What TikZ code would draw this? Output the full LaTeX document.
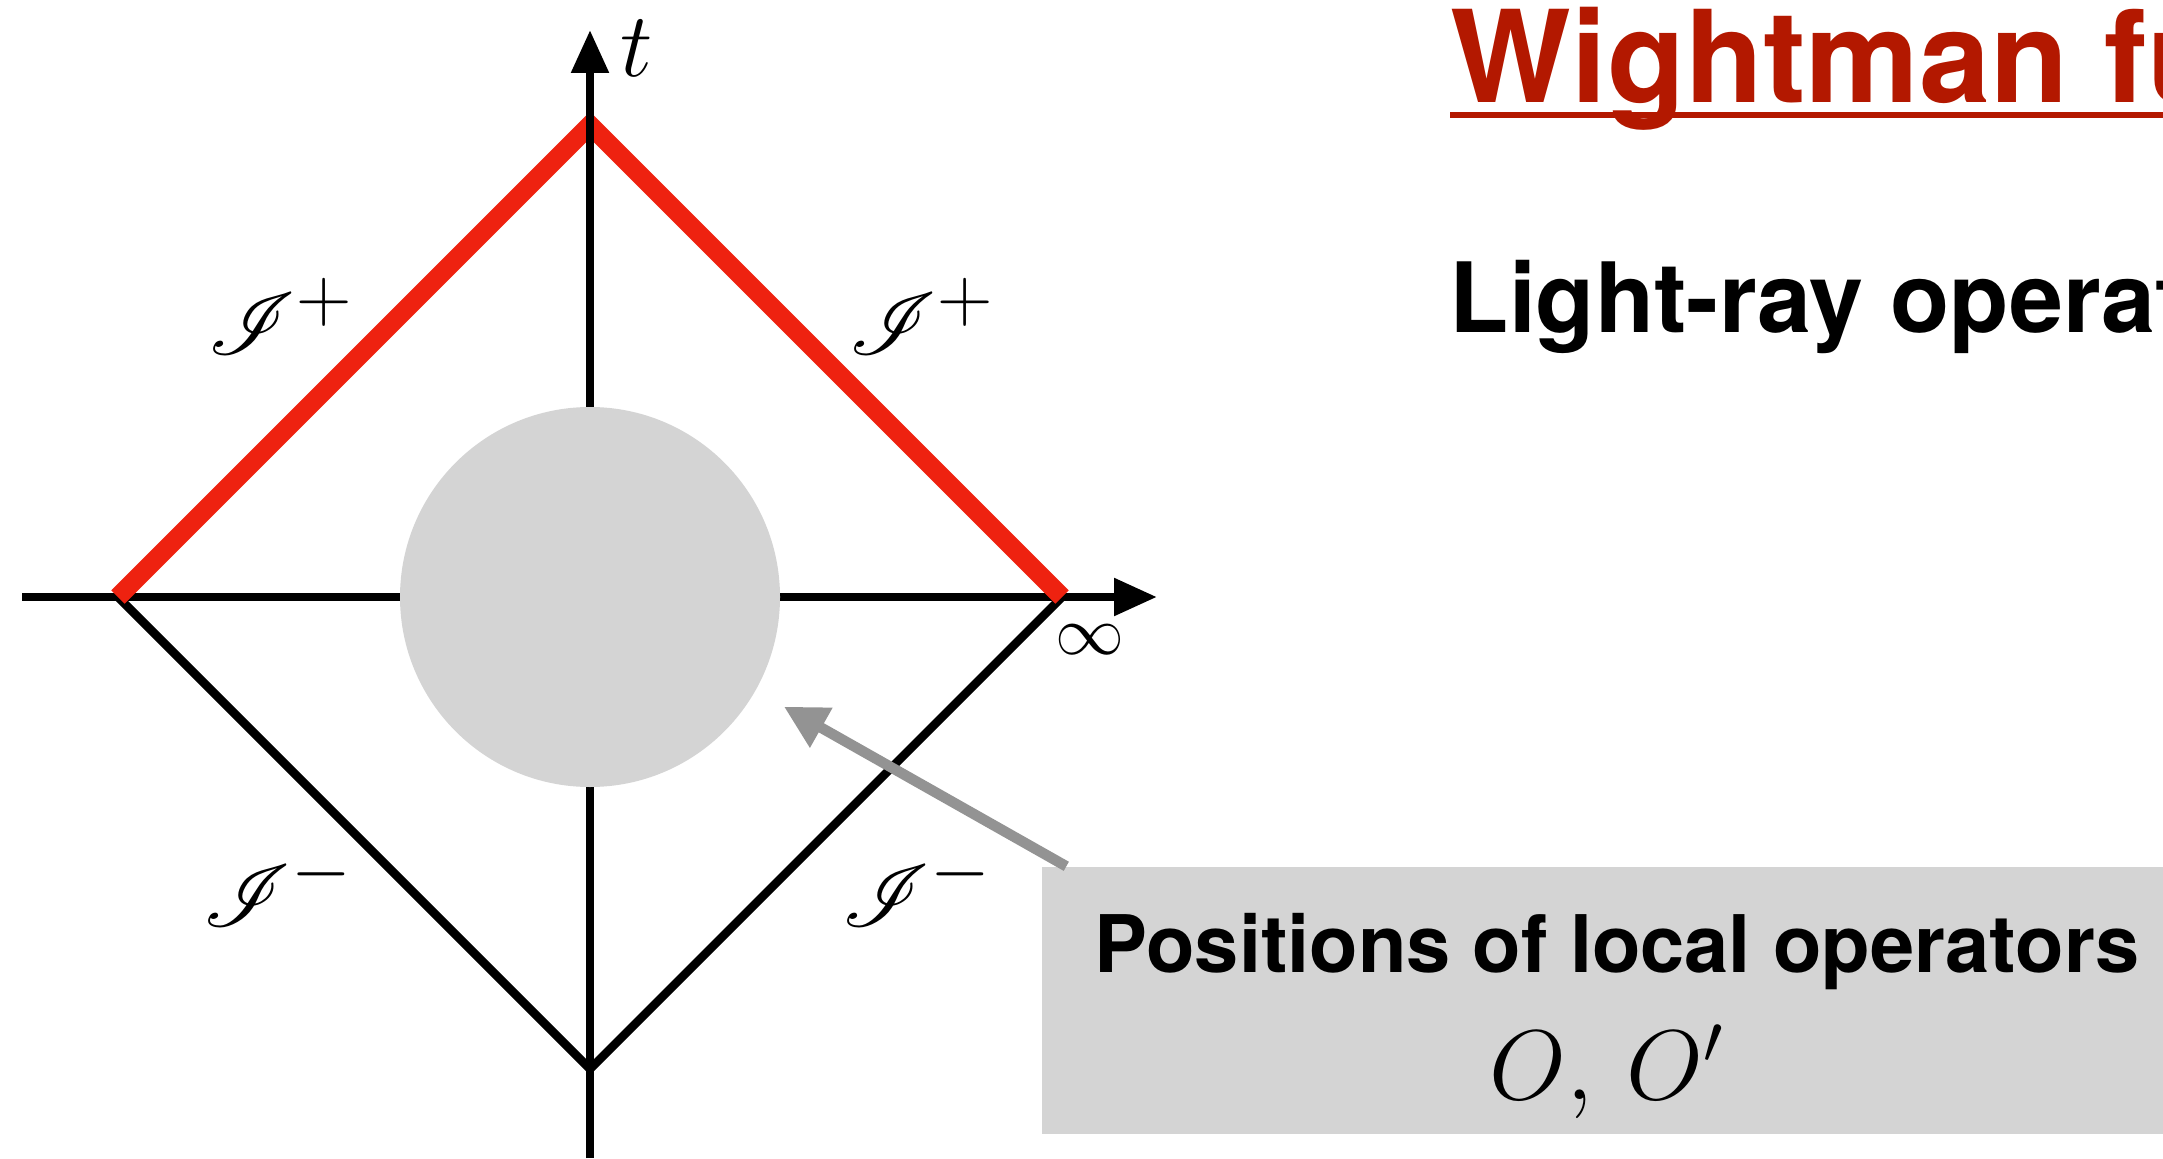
\RequirePackage{fix-cm}
\documentclass[tikz,border=0pt]{standalone}
\usepackage{fontspec}
\usepackage{mathrsfs}
\usepackage{tikz}
\usetikzlibrary{arrows.meta, positioning, calc}
\newfontfamily\heros{TeX Gyre Heros}
\definecolor{conered}{RGB}{238,34,16}
\definecolor{titlered}{RGB}{179,24,0}
\definecolor{diskgray}{RGB}{212,212,212}
\definecolor{arrowgray}{RGB}{147,147,147}
\newcommand{\bigsup}[1]{\scalebox{1.2}{$\scriptstyle #1$}}

\begin{document}
\begin{tikzpicture}[
        axis/.style={line width=0.085cm, -{Triangle[length=0.43cm, width=0.36cm]}},
        coneedge/.style={line width=0.085cm},
        nullinf/.style={line width=0.19cm, draw=conered},
        scri/.style={inner sep=0pt, font=\fontsize{26}{31}\selectfont},
        heading/.style={anchor=base west, inner sep=0pt, text=titlered, font=\heros\bfseries\fontsize{36.4}{44}\selectfont},
        subheading/.style={anchor=base west, inner sep=0pt, font=\heros\bfseries\fontsize{27.6}{33}\selectfont},
        infobox/.style={rectangle, fill=diskgray, inner sep=0pt, minimum width=11.21cm, minimum height=2.67cm},
        boxlabel/.style={anchor=base, inner sep=0pt, font=\heros\bfseries\fontsize{22.6}{27}\selectfont},
        pointer/.style={draw=arrowgray, line width=0.105cm, -{Triangle[length=0.43cm, width=0.43cm, fill=arrowgray]}, shorten >=0.32cm}
    ]
        \useasboundingbox (0,0) rectangle (21.63,-11.58);

        % light cone corners and axes ends
        \coordinate (origin) at (5.90,-5.97);
        \coordinate (west) at (1.18,-5.97);
        \coordinate (east) at (10.62,-5.97);
        \coordinate (north) at (5.90,-1.25);
        \coordinate (south) at (5.90,-10.69);
        \coordinate (xstart) at (0.22,-5.97);
        \coordinate (xend) at (11.57,-5.97);
        \coordinate (tstart) at (5.90,-11.58);
        \coordinate (tend) at (5.90,-0.30);

        \draw[coneedge] (west) -- (south) -- (east);
        \draw[axis] (xstart) -- (xend);
        \draw[nullinf] (west) -- (north) -- (east);
        \draw[axis] (tstart) -- (tend);

        \node[circle, fill=diskgray, inner sep=0pt, minimum size=3.80cm] (disk) at (origin) {};

        \node[scri] (tlabel) at (6.37,-0.48) {$t$};
        \node[inner sep=0pt, font=\fontsize{19.6}{24}\selectfont] (inflabel) at (10.90,-6.40) {$\infty$};
        \node[scri] (scrinw) at (2.81,-3.16) {$\mathscr{I}^{\bigsup{+}}$};
        \node[scri] (scrine) at (9.22,-3.16) {$\mathscr{I}^{\bigsup{+}}$};
        \node[scri] (scrisw) at (2.78,-8.88) {$\mathscr{I}^{\bigsup{-}}$};
        \node[scri] (scrise) at (9.17,-8.88) {$\mathscr{I}^{\bigsup{-}}$};

        % slide text
        \node[heading] (title) at (14.50,-1.03) {Wightman fu};
        \draw[titlered, line width=0.06cm] ($(title.base west)+(0,-0.12)$) -- ($(title.base west)+(7.13,-0.12)$);
        \node[subheading] (lightray) at (14.49,-3.33) {Light-ray operat};

        \node[infobox] (box) at (16.025,-10.005) {};
        \node[boxlabel] (posn) at (16.17,-9.72) {Positions of local operators};
        \node[anchor=base, inner sep=0pt, font=\fontsize{28.2}{34}\selectfont] (ops) at (16.07,-10.99) {$O,\, O'$};

        \coordinate (ptrstart) at ($(box.north west)+(0.25,0)$);
        \draw[pointer] (ptrstart) -- (disk);
    \end{tikzpicture}
\end{document}
